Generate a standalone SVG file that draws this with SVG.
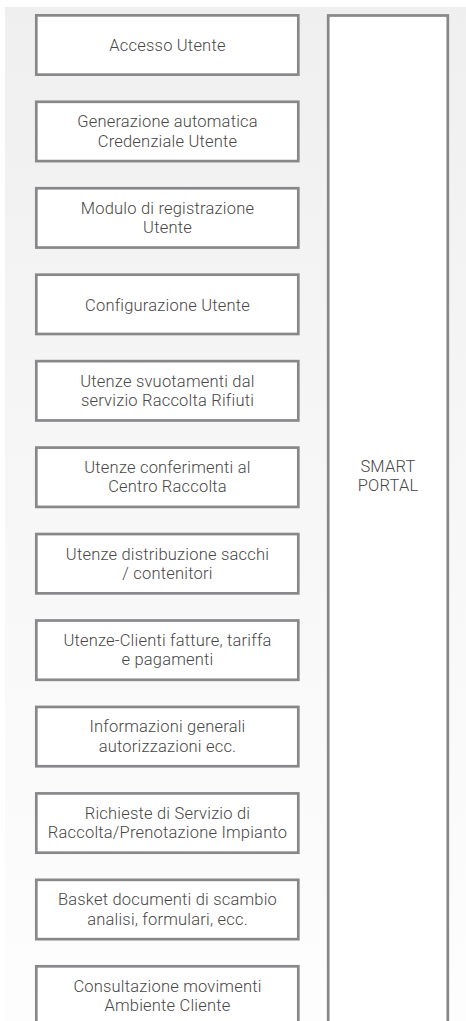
<svg xmlns="http://www.w3.org/2000/svg" width="466" height="1021" viewBox="0 0 466 1021">
<defs>
<linearGradient id="bg" x1="0" y1="0" x2="0" y2="1">
<stop offset="0" stop-color="#eeefee"/>
<stop offset="0.5" stop-color="#f7f7f7"/>
<stop offset="1" stop-color="#fdfdfd"/>
</linearGradient>
<style>
.box{fill:#ffffff;stroke:#88888a;stroke-width:2.7}
.t{font-family:Roboto,"Liberation Sans",sans-serif;font-weight:300;font-size:16.5px;letter-spacing:0.2px;fill:#474747;text-anchor:middle}
</style>
</defs>
<rect width="466" height="1021" fill="#ffffff"/>
<rect x="5" y="7" width="461" height="1014" fill="url(#bg)"/>
<g id="connectors"></g>
<g id="n1"><rect class="box" x="36.3" y="15.35" width="262" height="59.3"/><text class="t" x="167.5" y="51.3">Accesso Utente</text></g>
<g id="n2"><rect class="box" x="36.3" y="101.8" width="262" height="59.3"/><text class="t" x="167.5" y="127.3">Generazione automatica</text><text class="t" x="167.5" y="146.6">Credenziale Utente</text></g>
<g id="n3"><rect class="box" x="36.3" y="188.25" width="262" height="59.3"/><text class="t" x="167.5" y="213.7">Modulo di registrazione</text><text class="t" x="167.5" y="233">Utente</text></g>
<g id="n4"><rect class="box" x="36.3" y="274.7" width="262" height="59.3"/><text class="t" x="167.5" y="310.7">Configurazione Utente</text></g>
<g id="n5"><rect class="box" x="36.3" y="361.15" width="262" height="59.3"/><text class="t" x="167.5" y="386.6">Utenze svuotamenti dal</text><text class="t" x="167.5" y="405.9">servizio Raccolta Rifiuti</text></g>
<g id="n6"><rect class="box" x="36.3" y="447.6" width="262" height="59.3"/><text class="t" x="167.5" y="473">Utenze conferimenti al</text><text class="t" x="167.5" y="492.3">Centro Raccolta</text></g>
<g id="n7"><rect class="box" x="36.3" y="534.05" width="262" height="59.3"/><text class="t" x="167.5" y="559.5">Utenze distribuzione sacchi</text><text class="t" x="167.5" y="578.8">/ contenitori</text></g>
<g id="n8"><rect class="box" x="36.3" y="620.5" width="262" height="59.3"/><text class="t" x="167.5" y="645.9">Utenze-Clienti fatture, tariffa</text><text class="t" x="167.5" y="665.2">e pagamenti</text></g>
<g id="n9"><rect class="box" x="36.3" y="706.95" width="262" height="59.3"/><text class="t" x="167.5" y="732.4">Informazioni generali</text><text class="t" x="167.5" y="751.7">autorizzazioni ecc.</text></g>
<g id="n10"><rect class="box" x="36.3" y="793.4" width="262" height="59.3"/><text class="t" x="167.5" y="818.8">Richieste di Servizio di</text><text class="t" x="167.5" y="838.1">Raccolta/Prenotazione Impianto</text></g>
<g id="n11"><rect class="box" x="36.3" y="879.85" width="262" height="59.3"/><text class="t" x="167.5" y="905.3">Basket documenti di scambio</text><text class="t" x="167.5" y="924.6">analisi, formulari, ecc.</text></g>
<g id="n12"><rect class="box" x="36.3" y="966.3" width="262" height="59.3"/><text class="t" x="167.5" y="991.7">Consultazione movimenti</text><text class="t" x="167.5" y="1011">Ambiente Cliente</text></g>
<g id="smart-portal"><rect class="box" x="328.2" y="15.5" width="119.6" height="1100"/><text class="t" x="388" y="472">SMART</text><text class="t" x="388" y="491.3">PORTAL</text></g>
</svg>
